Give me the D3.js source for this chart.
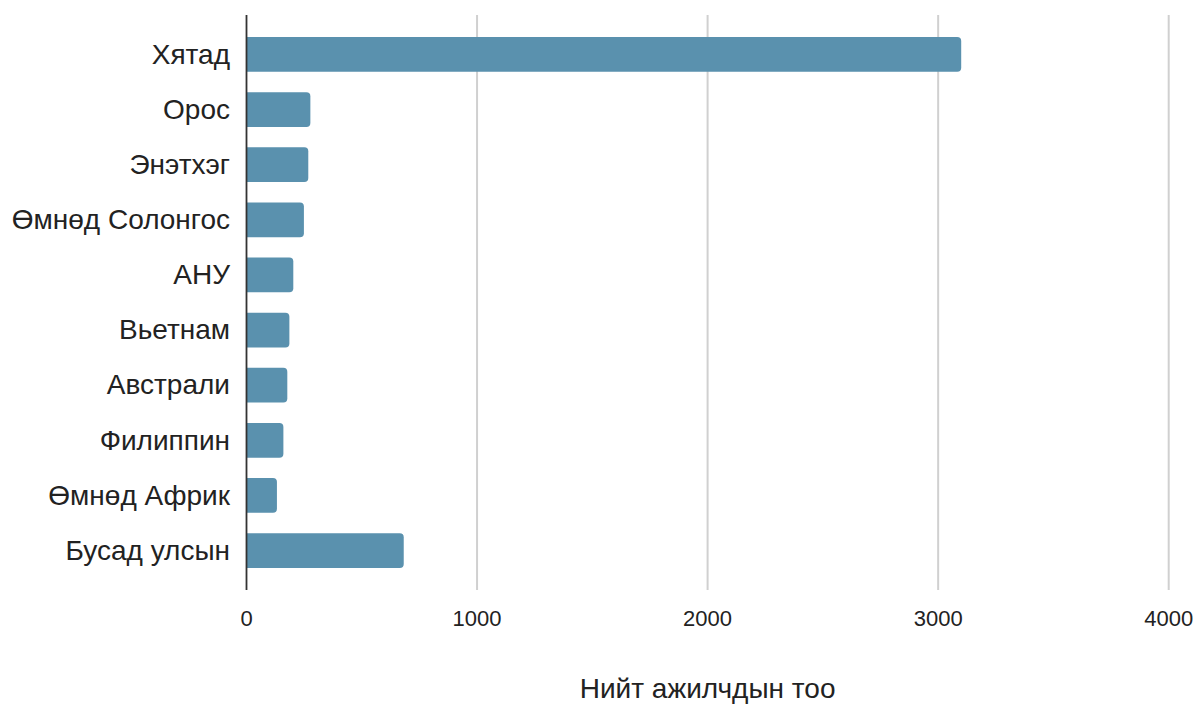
<!DOCTYPE html>
<html>
<head>
<meta charset="utf-8">
<script src="https://cdn.jsdelivr.net/npm/d3@7/dist/d3.min.js"></script>
<style>
  html, body { margin: 0; padding: 0; background: #fff; }
</style>
</head>
<body>
<svg id="chart" width="1199" height="704"></svg>
<script>
const categories = ["Хятад", "Орос", "Энэтхэг", "Өмнөд Солонгос", "АНУ", "Вьетнам", "Австрали", "Филиппин", "Өмнөд Африк", "Бусад улсын"];
const values = [3100, 277, 268, 249, 203, 186, 177, 160, 132, 682];
const xTicks = [0, 1000, 2000, 3000, 4000];
const xTitle = "Нийт ажилчдын тоо";

(function () {
const FONT = "'Liberation Sans', Arimo, Arial, Helvetica, sans-serif";
const svg = d3.select("#chart").attr("font-family", FONT);
const mLeft = 246.5, mRight = 1168.7, mTop = 15, mBottom = 590;

const x = d3.scaleLinear().domain([0, 4000]).range([mLeft, mRight]);
const y = d3.scaleBand().domain(categories).range([mTop, mBottom]).paddingInner(0.37).paddingOuter(0.4);

// gridlines
svg.append("g").selectAll("line").data(xTicks.filter(d => d > 0)).join("line")
  .attr("x1", d => x(d)).attr("x2", d => x(d))
  .attr("y1", mTop).attr("y2", mBottom)
  .attr("stroke", "#d0d0d0").attr("stroke-width", 2);

// bars with rounded right corners
const r = 4;
function barPath(d, i) {
  const x0 = x(0), x1 = x(d), y0 = y(categories[i]), h = y.bandwidth();
  const rr = Math.min(r, (x1 - x0) / 2);
  return `M${x0},${y0}H${x1 - rr}Q${x1},${y0} ${x1},${y0 + rr}V${y0 + h - rr}Q${x1},${y0 + h} ${x1 - rr},${y0 + h}H${x0}Z`;
}
svg.append("g").selectAll("path").data(values).join("path")
  .attr("d", barPath)
  .attr("fill", "#5a91ae");

// y axis line
svg.append("line")
  .attr("x1", x(0)).attr("x2", x(0))
  .attr("y1", mTop).attr("y2", mBottom)
  .attr("stroke", "#333").attr("stroke-width", 1.8);

// category labels
svg.append("g").selectAll("text").data(categories).join("text")
  .attr("font-family", FONT)
  .attr("x", x(0) - 16.5)
  .attr("y", d => y(d) + y.bandwidth() / 2)
  .attr("dy", "0.33em")
  .attr("text-anchor", "end")
  .attr("font-size", 28)
  .attr("fill", "#222")
  .text(d => d);

// x tick labels
svg.append("g").selectAll("text").data(xTicks).join("text")
  .attr("font-family", FONT)
  .attr("x", d => x(d))
  .attr("y", 626)
  .attr("text-anchor", "middle")
  .attr("font-size", 22)
  .attr("fill", "#222")
  .text(d => d);

// x title
svg.append("text")
  .attr("font-family", FONT)
  .attr("x", (mLeft + mRight) / 2)
  .attr("y", 698)
  .attr("text-anchor", "middle")
  .attr("font-size", 28)
  .attr("fill", "#222")
  .text(xTitle);
})();
</script>
</body>
</html>
